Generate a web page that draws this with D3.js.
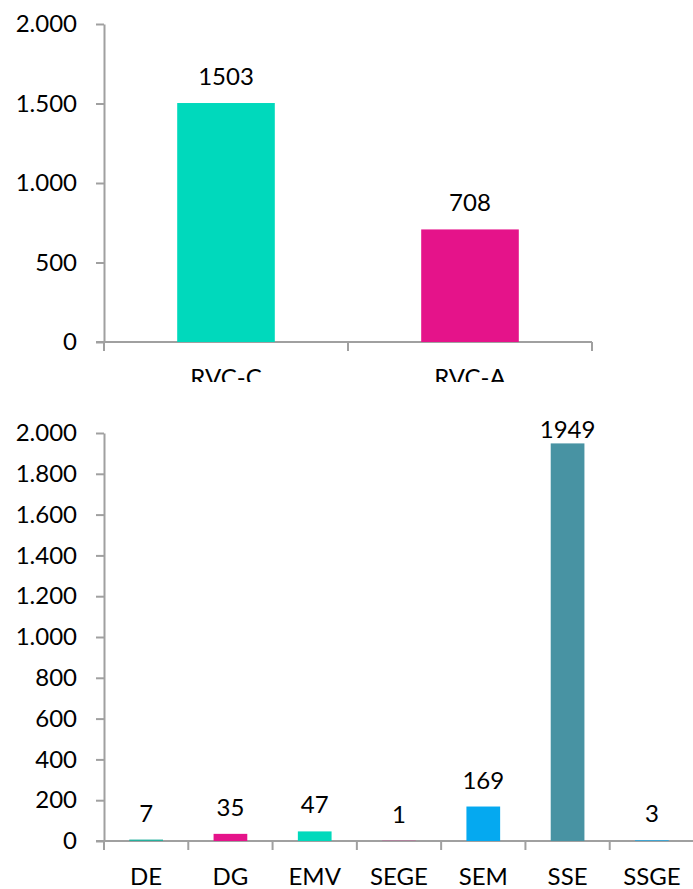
<!DOCTYPE html>
<html>
<head>
<meta charset="utf-8">
<script src="https://cdn.jsdelivr.net/npm/d3@7"></script>
<style>
    body { margin: 0; background: #fff; }
    text { font-family: Lato, "Open Sans", sans-serif; fill: #000; }
    .axis-line { stroke: #a0a0a0; stroke-width: 2; fill: none; }
</style>
</head>
<body>
<script>
// top chart data
var topCategories = ['RVC-C', 'RVC-A'];
var topValues = [1503, 708];
var topColors = ['#00d9bc', '#e5138a'];
var topTicks = [0, 500, 1000, 1500, 2000];

// bottom chart data
var bottomCategories = ['DE', 'DG', 'EMV', 'SEGE', 'SEM', 'SSE', 'SSGE'];
var bottomValues = [7, 35, 47, 1, 169, 1949, 3];
var bottomColors = ['#26b09d', '#e5138a', '#00d9bc', '#e5138a', '#05a9f0', '#4893a3', '#05a9f0'];
var bottomTicks = [0, 200, 400, 600, 800, 1000, 1200, 1400, 1600, 1800, 2000];

var locale = d3.formatLocale({ decimal: ',', thousands: '.', grouping: [3], currency: ['', ''] });
var fmt = locale.format(',');

var width = 693, height = 889;
var svg = d3.select('body').append('svg')
    .attr('width', width)
    .attr('height', height);

svg.append('defs').append('clipPath')
    .attr('id', 'clip-top')
    .append('rect')
    .attr('x', 0).attr('y', 0)
    .attr('width', width).attr('height', 382);

drawChart({
    g: svg.append('g').attr('clip-path', 'url(#clip-top)'),
    categories: topCategories,
    values: topValues,
    colors: topColors,
    ticks: topTicks,
    left: 104, right: 592, top: 24, bottom: 342,
    axisEnd: 592,
    labelMinY: 0
});

drawChart({
    g: svg.append('g'),
    categories: bottomCategories,
    values: bottomValues,
    colors: bottomColors,
    ticks: bottomTicks,
    left: 104, right: 694, top: 433, bottom: 841,
    axisEnd: 700,
    labelMinY: 438
});

function drawChart(opt) {
    var g = opt.g;
    var x = d3.scaleBand()
        .domain(opt.categories)
        .range([opt.left, opt.right])
        .padding(0);
    var y = d3.scaleLinear()
        .domain([0, d3.max(opt.ticks)])
        .range([opt.bottom, opt.top]);

    // y axis
    var yAxis = d3.axisLeft(y)
        .tickValues(opt.ticks)
        .tickFormat(fmt)
        .tickSize(8)
        .tickSizeOuter(0)
        .tickPadding(19);
    var yg = g.append('g')
        .attr('transform', 'translate(' + opt.left + ',0)')
        .call(yAxis);
    yg.select('.domain').attr('stroke', '#a0a0a0').attr('stroke-width', 2);
    yg.selectAll('.tick line').attr('stroke', '#a0a0a0').attr('stroke-width', 2);
    yg.selectAll('.tick text').attr('font-size', 24).attr('fill', '#000')
        .style('font-family', 'Lato, sans-serif');

    // x axis line
    g.append('line')
        .attr('class', 'axis-line')
        .attr('x1', opt.left - 8).attr('x2', opt.axisEnd)
        .attr('y1', opt.bottom).attr('y2', opt.bottom);

    // ticks at band boundaries
    var bounds = opt.categories.map(c => x(c));
    bounds.push(opt.right);
    g.selectAll('.xtick')
        .data(bounds)
        .enter().append('line')
        .attr('class', 'axis-line xtick')
        .attr('x1', d => d).attr('x2', d => d)
        .attr('y1', opt.bottom).attr('y2', opt.bottom + 9);

    // category labels
    var xAxis = d3.axisBottom(x).tickSize(0).tickPadding(27);
    var xg = g.append('g')
        .attr('transform', 'translate(0,' + opt.bottom + ')')
        .call(xAxis);
    xg.select('.domain').remove();
    xg.selectAll('.tick text').attr('font-size', 24).attr('fill', '#000')
        .style('font-family', 'Lato, sans-serif');

    var barW = x.bandwidth() * 0.4;

    // bars
    g.selectAll('.bar')
        .data(opt.values)
        .enter().append('rect')
        .attr('class', 'bar')
        .attr('x', (d, i) => x(opt.categories[i]) + (x.bandwidth() - barW) / 2)
        .attr('y', d => y(d))
        .attr('width', barW)
        .attr('height', d => opt.bottom - y(d))
        .attr('fill', (d, i) => opt.colors[i]);

    // value labels
    g.selectAll('.value-label')
        .data(opt.values)
        .enter().append('text')
        .attr('class', 'value-label')
        .attr('x', (d, i) => x(opt.categories[i]) + x.bandwidth() / 2)
        .attr('y', d => Math.max(y(d) - 18, opt.labelMinY))
        .attr('text-anchor', 'middle')
        .attr('font-size', 24)
        .text(d => d);
}
</script>
</body>
</html>
